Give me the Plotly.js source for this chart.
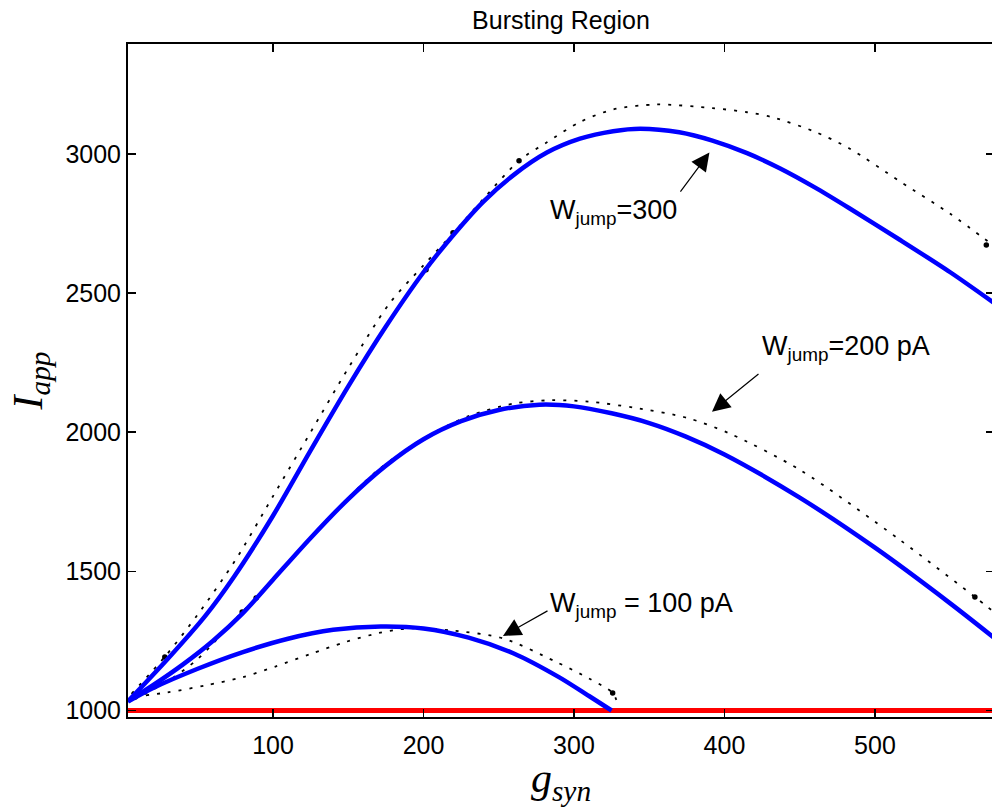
<!DOCTYPE html>
<html>
<head>
<meta charset="utf-8">
<script src="https://cdn.plot.ly/plotly-3.0.1.min.js"></script>
<style>
  html, body { margin: 0; padding: 0; overflow: hidden; background: #fff; }
  #chart { width: 994px; height: 807px; }
</style>
</head>
<body>
<div id="chart"></div>
<script>
// Bursting region boundaries in the (g_syn, I_app) plane for three jump sizes.
// Solid blue: fitted boundary; dotted black: simulated boundary.

const w300X = [4, 30, 55, 74, 100, 125, 150, 175, 200, 220, 240, 260, 282, 304, 326, 344, 370, 392, 415, 437, 460, 483, 517, 550, 579];
const w300Y = [1035, 1185, 1340, 1480, 1700, 1935, 2165, 2380, 2575, 2710, 2830, 2925, 3005, 3055, 3082, 3091, 3078, 3048, 3003, 2948, 2880, 2805, 2690, 2575, 2465];

const w300DotX = [6, 28, 50, 75, 100, 125, 150, 177, 200, 220, 240, 263.5, 282, 304, 326, 355, 392, 415, 432, 460, 483, 517, 550, 579];
const w300DotY = [1060, 1192, 1345, 1540, 1770, 2000, 2230, 2460, 2600, 2717, 2840, 2976, 3042, 3115, 3160, 3178, 3165, 3150, 3132, 3080, 3020, 2900, 2785, 2670];

const w200X = [4, 20, 40, 60, 80, 100, 125, 150, 175, 200, 225, 250, 277, 300, 325, 350, 374, 400, 450, 500, 550, 579];
const w200Y = [1035, 1090, 1165, 1250, 1350, 1470, 1620, 1760, 1880, 1975, 2040, 2080, 2099, 2093, 2068, 2033, 1985, 1920, 1765, 1585, 1385, 1262];

const w200DotX = [8, 30, 50, 79.5, 88.8, 110, 140, 170, 200, 230, 260, 285, 310, 340, 375, 403.6, 450, 516.6, 566.4, 579];
const w200DotY = [1040, 1105, 1185, 1354, 1404, 1530, 1710, 1865, 1978, 2058, 2103, 2115, 2110, 2088, 2052, 1995, 1865, 1613, 1408, 1354];

const w100X = [3.6, 20, 50, 80, 110, 140, 171.6, 200, 230, 260, 290, 310, 325];
const w100Y = [1032, 1080, 1150, 1210, 1258, 1290, 1302, 1295, 1262, 1205, 1120, 1052, 1000];

const w100DotX = [8.3, 30, 55, 80, 101.6, 125, 148, 170, 190, 218, 253, 288, 310, 325.7, 329];
const w100DotY = [1050, 1065, 1090, 1120, 1158, 1203, 1246, 1278, 1295, 1288, 1259, 1175, 1115, 1063, 1025];

// isolated sample points drawn as dots on the simulated boundaries
const sampleX = [28.1, 201.7, 219.6, 263.5, 574, 79.5, 88.8, 566.4, 325.7];
const sampleY = [1192, 2584, 2717, 2976, 2673, 1354, 1404, 1408, 1063];

// baseline current
const baseX = [3.65, 579.1];
const baseY = [1000, 1000];

const xTicks = [100, 200, 300, 400, 500];
const yTicks = [1000, 1500, 2000, 2500, 3000];

const blue = 'rgb(0,0,255)';
const dotLine = { color: 'black', width: 1.8, dash: '3px,8px', shape: 'spline', smoothing: 0.8 };
const solidLine = { color: blue, width: 4.5, shape: 'spline', smoothing: 0.8 };

const traces = [
  { x: w300DotX, y: w300DotY, mode: 'lines', line: dotLine },
  { x: w200DotX, y: w200DotY, mode: 'lines', line: dotLine },
  { x: w100DotX, y: w100DotY, mode: 'lines', line: dotLine },
  { x: sampleX, y: sampleY, mode: 'markers', marker: { color: 'black', size: 5.5 } },
  { x: baseX, y: baseY, mode: 'lines', line: { color: 'rgb(255,0,0)', width: 5 } },
  { x: w300X, y: w300Y, mode: 'lines', line: solidLine },
  { x: w200X, y: w200Y, mode: 'lines', line: solidLine },
  { x: w100X, y: w100Y, mode: 'lines', line: solidLine }
];
traces.forEach(t => { t.showlegend = false; t.hoverinfo = 'skip'; });

const sans = 'Liberation Sans, Arial, sans-serif';
const serif = 'Liberation Serif, Times New Roman, serif';
const textFont = { family: sans, size: 27, color: 'black' };

function arrow(hx, hy, tx, ty) {
  return {
    x: hx, y: hy, xref: 'x', yref: 'y',
    ax: tx, ay: ty, axref: 'x', ayref: 'y',
    text: '', showarrow: true,
    arrowhead: 2, arrowsize: 3, arrowwidth: 1.2, arrowcolor: 'black'
  };
}
function label(x, y, txt) {
  return {
    x: x, y: y, xref: 'x', yref: 'y', text: txt, showarrow: false,
    xanchor: 'left', yanchor: 'middle', font: textFont
  };
}

const layout = {
  width: 994, height: 807,
  margin: { l: 128, r: 0, t: 44, b: 90 },
  paper_bgcolor: 'white', plot_bgcolor: 'white',
  title: {
    text: 'Bursting Region', xref: 'paper', x: 0.5, y: 0.975, yanchor: 'middle',
    font: { family: sans, size: 25, color: 'black' }
  },
  xaxis: {
    range: [3.65, 579.1], tickvals: xTicks, ticktext: xTicks.map(String),
    ticks: 'inside', ticklen: 8, tickwidth: 1.5, tickcolor: 'black',
    showline: true, linecolor: 'black', linewidth: 2, mirror: 'ticks',
    showgrid: false, zeroline: false, ticklabelstandoff: 5,
    tickfont: { family: sans, size: 25, color: 'black' },
    title: {
      text: '<i>g</i><sub><i>syn</i></sub>', standoff: 0,
      font: { family: serif, size: 42, color: 'black' }
    }
  },
  yaxis: {
    range: [976.6, 3395.3], tickvals: yTicks, ticktext: yTicks.map(String),
    ticks: 'inside', ticklen: 8, tickwidth: 1.5, tickcolor: 'black',
    showline: true, linecolor: 'black', linewidth: 2, mirror: 'ticks',
    showgrid: false, zeroline: false,
    tickfont: { family: sans, size: 25, color: 'black' },
    title: {
      text: '<i>I</i><sub><i>app</i></sub>', standoff: 10,
      font: { family: serif, size: 42, color: 'black' }
    }
  },
  annotations: [
    arrow(390, 3005, 370, 2859),
    label(282.7, 2793, 'W<sub>jump</sub>=300'),
    arrow(391.7, 2074, 423.6, 2214),
    label(423.6, 2304, 'W<sub>jump</sub>=200 pA'),
    arrow(252.8, 1268, 283.4, 1361),
    label(282.7, 1380, 'W<sub>jump</sub> = 100 pA')
  ]
};

Plotly.newPlot('chart', traces, layout, { staticPlot: true, displayModeBar: false });
</script>
</body>
</html>
